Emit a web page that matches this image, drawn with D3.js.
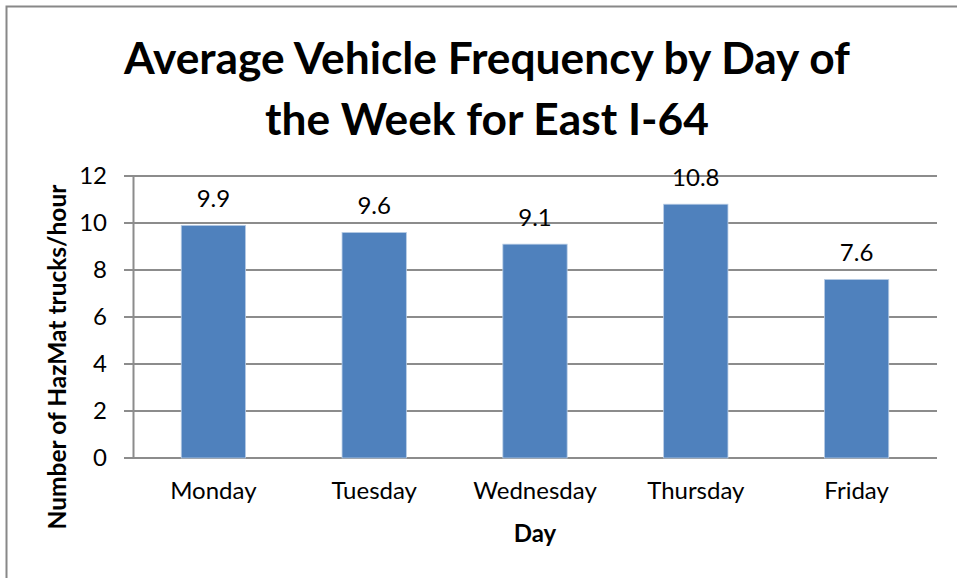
<html>
<script src='https://d3js.org/d3.v7.min.js'></script>
<style>
body {margin: 0; background: white;}
text {font-family: Lato, 'Open Sans', sans-serif; fill: black;}
</style>
<body onload='init()'>
<svg width=957 height=578>
</svg>
<script>
var days = ["Monday", "Tuesday", "Wednesday", "Thursday", "Friday"]
var trucks = [9.9, 9.6, 9.1, 10.8, 7.6]
var yTicks = [0, 2, 4, 6, 8, 10, 12]
var titleLines = ["Average Vehicle Frequency by Day of", "the Week for East I-64"]

function init() {
var svg = d3.select("svg")
var left = 133, top = 176, w = 804, h = 282

// outer frame
svg.append("rect").attr("x", 6.5).attr("y", 6.5).attr("width", 980).attr("height", 600)
.attr("fill", "none").attr("stroke", "#888").attr("stroke-width", 2)

var x = d3.scaleBand().domain(days).range([0, w]).paddingInner(0.6).paddingOuter(0.3)
var y = d3.scaleLinear().domain([0, 12]).range([h, 0])

var g = svg.append("g").attr("transform", "translate(" + left + "," + top + ")")

// gridlines
g.selectAll(".grid").data(yTicks).enter().append("line")
.attr("x1", -9).attr("x2", w)
.attr("y1", function(d) { return y(d) }).attr("y2", function(d) { return y(d) })
.attr("stroke", "#8c8c8c").attr("stroke-width", 2)

// y axis
var ya = g.append("g").call(d3.axisLeft(y).tickValues(yTicks).tickSize(0).tickPadding(26))
ya.select(".domain").attr("stroke", "#8c8c8c").attr("stroke-width", 2)
ya.selectAll("text").style("font-size", "24px").style("font-family", "Lato")

// bars
g.selectAll(".bar").data(trucks).enter().append("rect")
.attr("x", function(d, i) { return x(days[i]) })
.attr("y", function(d) { return y(d) })
.attr("width", x.bandwidth())
.attr("height", function(d) { return h - y(d) })
.attr("fill", "#4f81bd").attr("stroke", "#b9cde5").attr("stroke-width", 0.8)

// value labels
g.selectAll(".lbl").data(trucks).enter().append("text")
.attr("x", function(d, i) { return x(days[i]) + x.bandwidth() / 2 })
.attr("y", function(d) { return y(d) - 18 })
.attr("text-anchor", "middle").style("font-size", "24px")
.text(function(d) { return d3.format(".1f")(d) })

// x axis labels
var xa = g.append("g").attr("transform", "translate(0," + h + ")")
.call(d3.axisBottom(x).tickSize(0).tickPadding(24))
xa.select(".domain").remove()
xa.selectAll("text").style("font-size", "24px").style("font-family", "Lato")

// axis titles
svg.append("text").attr("x", 535).attr("y", 542).attr("text-anchor", "middle")
.style("font-size", "24px").style("font-weight", "bold").text("Day")
svg.append("text").attr("transform", "translate(66,357) rotate(-90)").attr("text-anchor", "middle")
.style("font-size", "24.5px").style("font-weight", "bold").text("Number of HazMat trucks/hour")

// title
svg.selectAll(".title").data(titleLines).enter().append("text")
.attr("x", 487).attr("y", function(d, i) { return 74 + i * 61 })
.attr("text-anchor", "middle").style("font-size", "44.3px").style("font-weight", "bold")
.text(function(d) { return d })
}
</script>
</body>
</html>
